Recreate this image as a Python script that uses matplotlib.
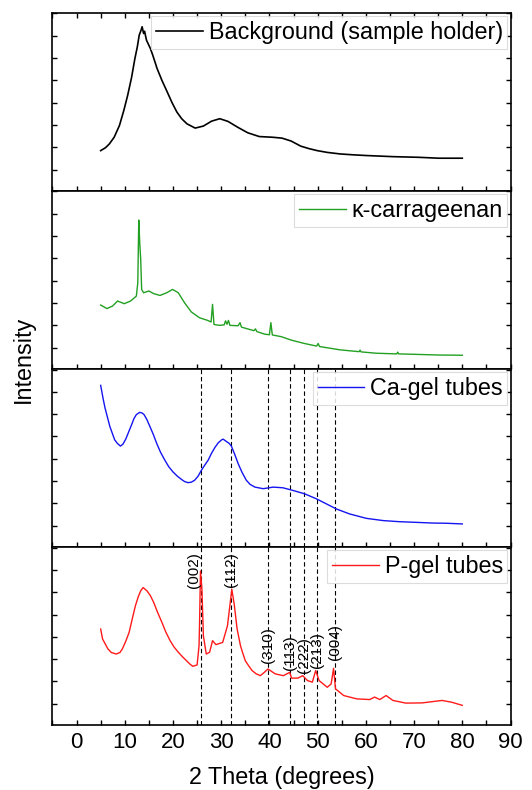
"""
XRD patterns of the sample holder, kappa-carrageenan and the two gel-tube
samples, stacked in four panels on a shared 2-theta axis.
"""

import matplotlib
matplotlib.use("Agg")
import matplotlib.pyplot as plt
from matplotlib.ticker import MultipleLocator

plt.rcParams["font.family"] = ["Liberation Sans", "DejaVu Sans"]

# --- digitised patterns (2theta in degrees, intensity in arbitrary units) ---
bg_x = [5.0, 6.0, 6.8, 7.8, 8.9, 9.8, 10.6, 11.4, 12.1, 12.6, 13.0, 13.3,
        13.6, 13.9, 14.1, 14.5, 15.3, 15.8, 16.7, 17.7, 18.8, 19.8, 20.8,
        21.8, 22.9, 24.6, 26.3, 28.0, 29.7, 31.4, 33.4, 35.5, 37.9, 40.6,
        42.6, 44.5, 46.5, 48.2, 49.9, 52.0, 54.7, 57.5, 60.1, 65.6, 71.0,
        75.1, 80.0]
bg_y = [0.85, 0.98, 1.15, 1.45, 1.98, 2.65, 3.33, 4.12, 4.98, 5.50, 6.03, 6.20,
        6.40, 6.10, 6.20, 5.80, 5.43, 5.13, 4.53, 4.00, 3.48, 3.00, 2.58,
        2.28, 2.05, 1.86, 1.95, 2.17, 2.28, 2.16, 1.90, 1.65, 1.48, 1.45,
        1.41, 1.28, 1.05, 0.94, 0.85, 0.77, 0.70, 0.66, 0.63, 0.58, 0.55,
        0.51, 0.51]

kc_x = [5.0, 6.3, 7.5, 8.5, 9.9, 11.2, 12.4, 12.7, 12.9, 13.1, 13.3, 13.5,
        13.9, 15.0, 16.0, 17.3, 18.7, 19.9, 21.1, 22.4, 23.8, 25.5, 27.2,
        27.9, 28.2, 28.5, 29.6, 30.6, 30.9, 31.2, 31.5, 31.8, 33.5, 33.9,
        34.2, 36.8, 37.1, 37.4, 39.1, 40.0, 40.3, 40.6, 42.5, 44.5, 47.2,
        49.8, 50.1, 50.4, 54.7, 58.6, 58.8, 59.0, 62.2, 66.4, 66.6, 66.8,
        70.3, 75.1, 80.0]
kc_y = [1.91, 1.75, 1.87, 2.09, 1.97, 2.09, 2.31, 2.91, 5.72, 4.70, 3.96, 2.61,
        2.46, 2.54, 2.42, 2.34, 2.46, 2.61, 2.46, 2.01, 1.60, 1.34, 1.22,
        1.15, 1.94, 1.04, 1.00, 1.02, 1.20, 1.05, 1.22, 1.00, 0.98, 1.12,
        0.92, 0.76, 0.84, 0.72, 0.60, 0.58, 1.12, 0.57, 0.49, 0.34, 0.19,
        0.07, 0.19, 0.05, -0.10, -0.18, -0.11, -0.19, -0.25, -0.28, -0.20, -0.28,
        -0.30, -0.33, -0.34]

ca_x = [5.0, 5.5, 5.9, 6.9, 7.9, 8.5, 9.1, 9.6, 10.2, 10.8, 11.4, 11.9, 12.4,
        13.1, 13.6, 14.0, 14.6, 15.2, 15.9, 16.6, 17.4, 18.3, 19.1, 20.0,
        20.9, 21.8, 22.4, 23.1, 23.8, 24.5, 25.2, 25.9, 26.6, 27.3, 28.0,
        28.7, 29.4, 30.1, 30.4, 31.1, 31.6, 32.1, 32.8, 33.5, 34.3, 35.2,
        36.0, 37.0, 38.7, 40.8, 42.8, 44.9, 47.3, 49.7, 51.8, 53.9, 56.6,
        60.1, 63.6, 67.0, 70.5, 73.9, 76.7, 80.0]
ca_y = [6.29, 5.70, 5.28, 4.45, 3.85, 3.68, 3.57, 3.65, 3.88, 4.20, 4.52, 4.80,
        4.98, 5.08, 5.05, 4.98, 4.75, 4.45, 4.10, 3.70, 3.30, 2.94, 2.65,
        2.41, 2.22, 2.07, 1.98, 1.93, 1.95, 2.04, 2.22, 2.49, 2.72, 2.94,
        3.25, 3.51, 3.72, 3.85, 3.88, 3.77, 3.70, 3.57, 3.20, 2.79, 2.40,
        2.04, 1.85, 1.73, 1.66, 1.73, 1.70, 1.58, 1.43, 1.21, 0.98, 0.75,
        0.53, 0.33, 0.23, 0.18, 0.15, 0.12, 0.11, 0.08]

p_x = [5.0, 5.4, 6.5, 7.2, 8.2, 9.0, 9.5, 10.2, 10.9, 11.6, 12.2, 12.8, 13.3,
       13.8, 14.6, 15.3, 16.0, 16.8, 17.7, 18.5, 19.4, 20.2, 21.1, 22.0,
       22.8, 23.5, 24.1, 25.0, 25.4, 25.5, 25.7, 26.0, 26.3, 26.9, 27.6,
       28.2, 28.9, 30.3, 31.3, 32.2, 32.7, 33.3, 34.0, 34.5, 35.0, 35.7,
       36.4, 37.2, 38.1, 38.9, 39.7, 41.2, 42.9, 44.2, 44.6, 45.9, 46.9,
       47.9, 48.9, 49.6, 50.3, 52.0, 52.8, 53.3, 53.7, 55.4, 58.1, 60.8,
       61.8, 62.9, 64.2, 65.6, 68.3, 71.7, 75.8, 77.8, 80.0]
p_y = [3.35, 2.90, 2.46, 2.30, 2.23, 2.30, 2.46, 2.80, 3.20, 3.85, 4.39, 4.80,
       5.06, 5.21, 5.06, 4.85, 4.54, 4.10, 3.65, 3.22, 2.83, 2.55, 2.31,
       2.10, 1.93, 1.78, 1.68, 1.74, 2.60, 3.50, 5.95, 5.13, 3.05, 2.23,
       2.31, 2.83, 2.65, 2.75, 3.50, 5.13, 4.46, 3.35, 2.60, 2.25, 1.93,
       1.70, 1.49, 1.35, 1.26, 1.40, 1.56, 1.34, 1.26, 1.41, 1.15, 1.15,
       1.26, 1.04, 0.97, 1.49, 1.04, 0.74, 0.89, 1.59, 0.67, 0.37, 0.22,
       0.19, 0.30, 0.19, 0.37, 0.15, 0.03, 0.04, 0.15, 0.07, -0.07]

# hydroxyapatite reflections marked on the gel-tube panels
hkl_pos = [25.9, 32.0, 39.7, 44.2, 47.2, 49.8, 53.5]
hkl_labels = ["(002)", "(112)", "(310)", "(113)", "(222)", "(213)", "(004)"]
hkl_label_y = [5.2, 5.25, 1.85, 1.5, 1.4, 1.62, 1.95]

series = [
    (bg_x, bg_y, "black", "Background (sample holder)", 1.2),
    (kc_x, kc_y, "#22a022", "κ-carrageenan", 1.0),
    (ca_x, ca_y, "#1414f0", "Ca-gel tubes", 1.0),
    (p_x, p_y, "#ff1a1a", "P-gel tubes", 1.0),
]

fig, axes = plt.subplots(4, 1, sharex=True, figsize=(5.32, 7.90), dpi=100)
fig.subplots_adjust(left=0.0977, right=0.9605, top=0.9839, bottom=0.0823,
                    hspace=0)

for i, (ax, (xs, ys, color, label, lw)) in enumerate(zip(axes, series)):
    ax.plot(xs, ys, color=color, lw=lw, label=label)
    ax.set_xlim(-5.1, 90.1)
    ax.set_ylim(-0.95, 7.03)
    ax.xaxis.set_major_locator(MultipleLocator(10))
    ax.xaxis.set_minor_locator(MultipleLocator(5))
    ax.yaxis.set_major_locator(MultipleLocator(1))
    ax.tick_params(axis="x", which="both", direction="in", length=3.3,
                   width=1, top=(i == 0), bottom=True,
                   labelbottom=(i == 3), labelsize=16, pad=5)
    ax.tick_params(axis="y", direction="in", length=3.3, width=1,
                   left=True, right=True, labelleft=False)
    for sp in ax.spines.values():
        sp.set_linewidth(1.2)

    if i >= 2:
        for xp in hkl_pos:
            ax.axvline(xp, color="black", lw=0.8, ls=(0, (4, 2.5)), zorder=1)

    leg = ax.legend(loc="upper right", fontsize=16.8, fancybox=False,
                    edgecolor="#d6d6d6", framealpha=0.85, borderpad=0.2,
                    handlelength=2.0, handletextpad=0.25, borderaxespad=0.15)
    leg.get_frame().set_linewidth(0.8)

# peak labels on the P-gel pattern
ax4 = axes[3]
for xp, lab, yl in zip(hkl_pos, hkl_labels, hkl_label_y):
    ha = "right" if lab == "(002)" else "center"
    ax4.text(xp, yl, lab, rotation=90, fontsize=11, ha=ha, va="bottom")

fig.text(0.044, 0.545, "Intensity", rotation=90, fontsize=16.8,
         ha="center", va="center")
fig.text(0.529, 0.0152, "2 Theta (degrees)", fontsize=16.8,
         ha="center", va="center")

fig.savefig("out.png", dpi=100)
